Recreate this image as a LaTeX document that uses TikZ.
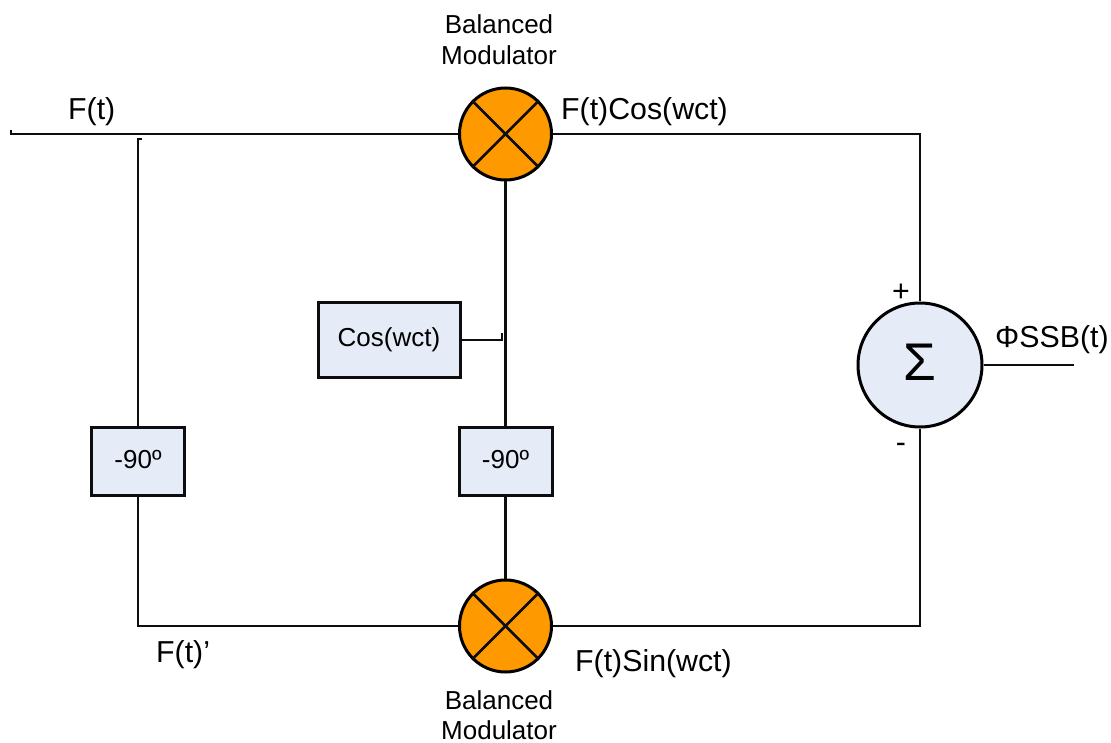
\documentclass[tikz,border=0pt]{standalone}
\usepackage{fontspec}
\setmainfont{Liberation Sans}
\begin{document}
\begin{tikzpicture}[x=1pt,y=-1pt,
  wire/.style={line width=2.7pt,draw=black!95},
  block/.style={draw=black!95,line width=3pt,fill=boxblue,inner sep=0pt},
  mixer/.style={circle,draw=black,line width=3pt,fill=mixorange,minimum size=92pt,inner sep=0pt},
  sumnode/.style={circle,draw=black,line width=3pt,fill=boxblue,minimum size=124pt,inner sep=0pt},
  lab/.style={inner sep=0pt,align=center,font=\fontsize{26}{30.5}\selectfont},
  biglab/.style={inner sep=0pt,font=\fontsize{30.3}{34}\selectfont}]
\definecolor{boxblue}{HTML}{E6ECF7}
\definecolor{mixorange}{HTML}{FF9900}
\useasboundingbox (0,0) rectangle (1111,743);
\node[mixer] (m1) at (505.5,134) {};
\node[mixer] (m2) at (505.5,626) {};
\node[sumnode] (sum) at (920,365) {};
\node[block,minimum width=142pt,minimum height=74pt] (cos) at (389,340) {};
\node[block,minimum width=93pt,minimum height=68pt] (p1) at (138,461) {};
\node[block,minimum width=93pt,minimum height=68pt] (p2) at (505.5,461) {};
\node[lab] (coslab) at (389,340) {Cos(wct)};
\node[lab] (p1lab) at (138,460) {-90º};
\node[lab] (p2lab) at (505.5,460) {-90º};
\node[inner sep=0pt,font=\fontsize{53}{53}\selectfont] (sigma) at (920,362.5) {Σ};
\coordinate (in0) at (11,130);
\coordinate (in1) at (11,134);
\coordinate (tapend) at (142,139);
\coordinate (tapcorner) at (138,139);
\coordinate (cosc) at (502,340);
\coordinate (cose) at (502,333);
\coordinate (corner1) at (920,134);
\coordinate (corner2) at (920,626);
\coordinate (corner3) at (138,626);
\coordinate (outend) at (1074,365);
\draw[wire] (in0) -- (in1) -- (m1.west);
\draw[wire] (tapend) -- (tapcorner) -- (p1.north);
\draw[wire] (p1.south) -- (corner3) -- (m2.west);
\draw[wire] (m1.south) -- (p2.north);
\draw[wire] (p2.south) -- (m2.north);
\draw[wire] (cos.east) -- (cosc) -- (cose);
\draw[wire] (m1.east) -- (corner1) -- (sum.north);
\draw[wire] (m2.east) -- (corner2) -- (sum.south);
\draw[wire] (sum.east) -- (outend);
\foreach \m in {m1,m2}{
  \draw[wire] (\m.north west) -- (\m.south east);
  \draw[wire] (\m.north east) -- (\m.south west);
}
\node[lab] (bm1) at (499,39.5) {Balanced\\Modulator};
\node[lab] (bm2) at (499,715) {Balanced\\Modulator};
\node[biglab,anchor=base west] (ft) at (68,120) {F(t)};
\node[biglab,anchor=base west] (ftc) at (561,120) {F(t)Cos(wct)};
\node[biglab,anchor=base west] (fts) at (575,671) {F(t)Sin(wct)};
\node[biglab,anchor=base west] (ftp) at (156,662) {F(t)’};
\node[biglab,anchor=base west] (phi) at (995,347) {ΦSSB(t)};
\node[biglab] (plus) at (901,293) {+};
\node[biglab] (minus) at (901,448) {-};
\end{tikzpicture}
\end{document}
